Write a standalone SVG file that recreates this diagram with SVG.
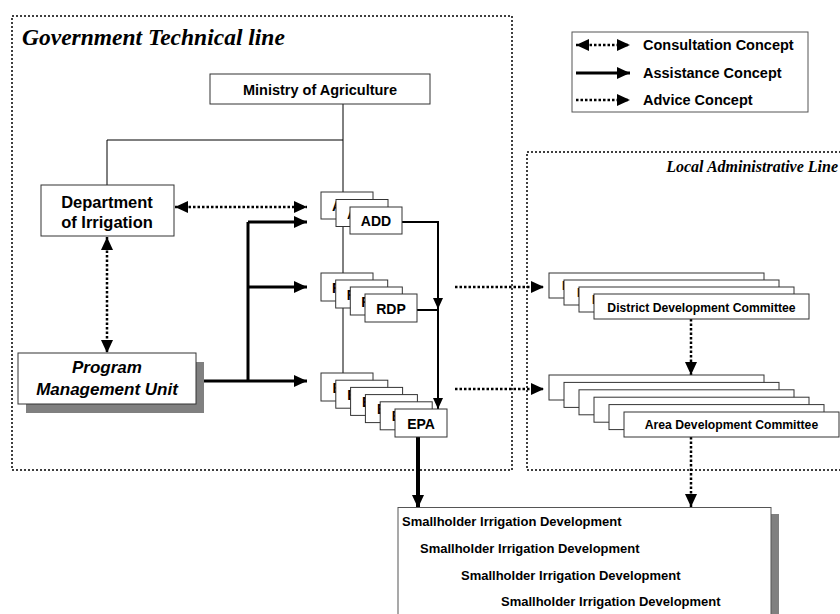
<svg xmlns="http://www.w3.org/2000/svg" width="840" height="614" viewBox="0 0 840 614">
  <defs>
    <marker id="ah" markerUnits="userSpaceOnUse" markerWidth="13" markerHeight="12" refX="13" refY="6" orient="auto-start-reverse">
      <path d="M0,0 L13,6 L0,12 z" fill="#000"/>
    </marker>
    <marker id="at" markerUnits="userSpaceOnUse" markerWidth="11" markerHeight="10" refX="11" refY="5" orient="auto-start-reverse">
      <path d="M0,0 L11,5 L0,10 z" fill="#000"/>
    </marker>
    <style>
      .frame { fill: none; stroke: #000; stroke-width: 1.5; stroke-dasharray: 2 2; }
      .box { fill: #fff; stroke: #333; stroke-width: 1; }
      .thin { fill: none; stroke: #000; stroke-width: 1; }
      .assist { fill: none; stroke: #000; stroke-width: 3; marker-end: url(#ah); }
      .advice { fill: none; stroke: #000; stroke-width: 2.5; stroke-dasharray: 2.5 2; marker-end: url(#ah); }
      .consult { fill: none; stroke: #000; stroke-width: 2.5; stroke-dasharray: 2.5 2; marker-start: url(#ah); marker-end: url(#ah); }
      .link { fill: none; stroke: #000; stroke-width: 2; marker-end: url(#at); }
      .lbl { font-family: "Liberation Sans", Arial, sans-serif; font-weight: bold; fill: #000; }
      .mid { text-anchor: middle; }
      .title { font-family: "Liberation Serif", "Times New Roman", serif; font-weight: bold; font-style: italic; fill: #000; }
      .shadow { fill: #808080; }
    </style>
  </defs>

  <!-- Dotted frames of the two lines -->
  <rect class="frame" x="12" y="16" width="500" height="454"/>
  <rect class="frame" x="527" y="152" width="330" height="318"/>
  <text class="title" x="22" y="45" font-size="23.5">Government Technical line</text>
  <text class="title" x="838" y="172" font-size="16" text-anchor="end">Local Administrative Line</text>

  <!-- Legend -->
  <g id="legend">
    <rect x="572" y="32" width="236" height="80" fill="#fff" stroke="#555" stroke-width="1"/>
    <path class="consult" d="M576,45 H630"/>
    <path class="assist" d="M576,73 H630"/>
    <path class="advice" d="M576,100 H630"/>
    <text class="lbl" x="643" y="50" font-size="14.5">Consultation Concept</text>
    <text class="lbl" x="643" y="78" font-size="14.5">Assistance Concept</text>
    <text class="lbl" x="643" y="105" font-size="14.5">Advice Concept</text>
  </g>

  <!-- Connectors -->
  <g id="connectors">
    <path class="thin" d="M343,104 V373"/>
    <path class="thin" d="M343,140 H107 V185"/>
    <path class="consult" d="M175,207 H307"/>
    <path class="consult" d="M107,237 V353"/>
    <path class="assist" d="M196,381 H307"/>
    <path fill="none" stroke="#000" stroke-width="3" d="M248,381 V222"/>
    <path class="assist" d="M248,222 H307"/>
    <path class="assist" d="M248,287 H307"/>
    <path class="link" d="M402,222 H438 V309"/>
    <path class="link" d="M417,310 H438 V409"/>
    <path class="advice" d="M455,287 H544"/>
    <path class="advice" d="M455,389 H544"/>
    <path class="advice" d="M691,319 V375"/>
    <path class="advice" d="M691,437 V507"/>
    <path fill="none" stroke="#000" stroke-width="4" marker-end="url(#ah)" d="M418,437 V508"/>
  </g>

  <!-- Nodes -->
  <g id="ministry">
    <rect class="box" x="210" y="74" width="220" height="30"/>
    <text class="lbl mid" x="320" y="95" font-size="14.5">Ministry of Agriculture</text>
  </g>

  <g id="department">
    <rect class="box" x="41" y="185" width="133" height="51"/>
    <text class="lbl mid" x="107" y="208" font-size="16.5">Department</text>
    <text class="lbl mid" x="107" y="228" font-size="16.5">of Irrigation</text>
  </g>

  <g id="pmu">
    <rect class="shadow" x="26" y="362" width="178" height="51"/>
    <rect class="box" x="18" y="353" width="178" height="51"/>
    <text class="lbl mid" x="107" y="373" font-size="17" font-style="italic">Program</text>
    <text class="lbl mid" x="107" y="395" font-size="17" font-style="italic">Management Unit</text>
  </g>

  <!-- Stacked offices: only the leading letter of the rear cards shows -->
  <g id="add">
    <rect class="box" x="321" y="192" width="52" height="27"/>
    <text class="lbl" x="332" y="211" font-size="14">A</text>
    <rect class="box" x="336" y="199.5" width="52" height="27"/>
    <text class="lbl" x="347" y="218.5" font-size="14">A</text>
    <rect class="box" x="350" y="207" width="52" height="27"/>
    <text class="lbl mid" x="376" y="226" font-size="14">ADD</text>
  </g>

  <g id="rdp">
    <rect class="box" x="321" y="273" width="52" height="28"/>
    <text class="lbl" x="332" y="292.5" font-size="14">R</text>
    <rect class="box" x="335.7" y="280" width="52" height="28"/>
    <text class="lbl" x="346.7" y="299.5" font-size="14">R</text>
    <rect class="box" x="350.3" y="287" width="52" height="28"/>
    <text class="lbl" x="361.3" y="306.5" font-size="14">R</text>
    <rect class="box" x="365" y="294" width="52" height="28"/>
    <text class="lbl mid" x="391" y="313.5" font-size="14">RDP</text>
  </g>

  <g id="epa">
    <rect class="box" x="321" y="373" width="52" height="28"/>
    <text class="lbl" x="332.5" y="392.5" font-size="14">E</text>
    <rect class="box" x="335.8" y="380.2" width="52" height="28"/>
    <text class="lbl" x="347.3" y="399.7" font-size="14">E</text>
    <rect class="box" x="350.6" y="387.4" width="52" height="28"/>
    <text class="lbl" x="362.1" y="406.9" font-size="14">E</text>
    <rect class="box" x="365.4" y="394.6" width="52" height="28"/>
    <text class="lbl" x="376.9" y="414.1" font-size="14">E</text>
    <rect class="box" x="380.2" y="401.8" width="52" height="28"/>
    <text class="lbl" x="391.7" y="421.3" font-size="14">E</text>
    <rect class="box" x="395" y="409" width="52" height="28"/>
    <text class="lbl mid" x="421" y="428.5" font-size="14">EPA</text>
  </g>

  <g id="district">
    <rect class="box" x="549" y="273" width="215" height="25"/>
    <text class="lbl" x="562" y="290" font-size="12.2">D</text>
    <rect class="box" x="564" y="280" width="215" height="25"/>
    <text class="lbl" x="577" y="297" font-size="12.2">D</text>
    <rect class="box" x="579" y="287" width="215" height="25"/>
    <text class="lbl" x="592" y="304" font-size="12.2">D</text>
    <rect class="box" x="594" y="294" width="215" height="25"/>
    <text class="lbl mid" x="701.5" y="311.5" font-size="12.2">District Development Committee</text>
  </g>

  <g id="area">
    <rect class="box" x="549" y="375" width="215" height="25"/>
    <rect class="box" x="564" y="382.4" width="215" height="25"/>
    <rect class="box" x="579" y="389.8" width="215" height="25"/>
    <rect class="box" x="594" y="397.2" width="215" height="25"/>
    <rect class="box" x="609" y="404.6" width="215" height="25"/>
    <rect class="box" x="624" y="412" width="215" height="25"/>
    <text class="lbl mid" x="731.5" y="429" font-size="12.2">Area Development Committee</text>
  </g>

  <g id="smallholder">
    <rect class="shadow" x="771" y="514" width="8" height="110"/>
    <rect x="398" y="507.5" width="373" height="120" fill="#fff" stroke="#555" stroke-width="1"/>
    <text class="lbl" x="402" y="526" font-size="13">Smallholder Irrigation Development</text>
    <text class="lbl" x="420" y="553" font-size="13">Smallholder Irrigation Development</text>
    <text class="lbl" x="461" y="580" font-size="13">Smallholder Irrigation Development</text>
    <text class="lbl" x="501" y="606" font-size="13">Smallholder Irrigation Development</text>
  </g>
</svg>
